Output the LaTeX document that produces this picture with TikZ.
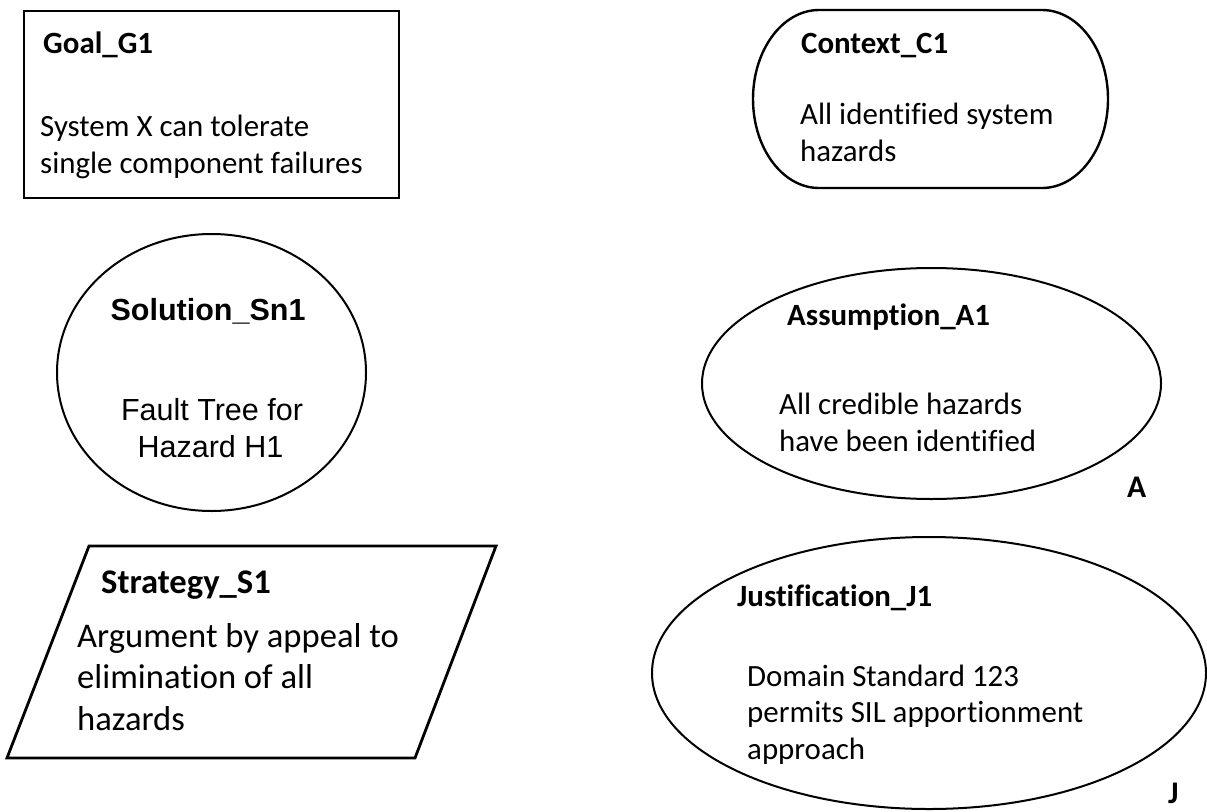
\documentclass[tikz,border=0pt]{standalone}
\usepackage{fontspec}
\setmainfont{Carlito}[Ligatures=NoCommon]
\newfontfamily\arialfont{Liberation Sans}
\usetikzlibrary{shapes.geometric}
\begin{document}
\begin{tikzpicture}[x=1pt,y=-1pt,
  shapeline/.style={draw=black,line width=2.2pt},
  ttl/.style={anchor=base west,inner sep=0pt,font=\fontsize{30.9}{36.5}\selectfont\bfseries},
  txt/.style={anchor=base west,inner sep=0pt,font=\fontsize{30.9}{36.5}\selectfont},
  sttl/.style={anchor=base west,inner sep=0pt,font=\fontsize{34.6}{41.5}\selectfont\bfseries},
  stxt/.style={anchor=base west,inner sep=0pt,font=\fontsize{34.6}{41.5}\selectfont},
  attl/.style={anchor=base,inner sep=0pt,font=\fontsize{30.5}{37}\selectfont\arialfont\bfseries},
  atxt/.style={anchor=base,inner sep=0pt,font=\fontsize{30.5}{37}\selectfont\arialfont},
  ellnode/.style={shapeline,ellipse,inner sep=0pt,line width=2pt}
]
\useasboundingbox (0,0) rectangle (1207,811);

% Goal
\node[shapeline,line width=2.8pt,rectangle,inner sep=0pt,minimum width=375pt,minimum height=187pt] (goal) at (211.5,104.5) {};
\node[ttl] (goalT) at (43,53.3) {Goal\_G1};
\node[txt] (goalL1) at (40,136.7) {System X can tolerate};
\node[txt] (goalL2) at (40,173.3) {single component failures};

% Context
\draw[shapeline,line width=2.4pt] (819,10) -- (1042,10)
  arc[start angle=-90,end angle=90,x radius=66,y radius=89]
  -- (819,188)
  arc[start angle=90,end angle=270,x radius=66,y radius=89] -- cycle;
\coordinate (context) at (930.5,99);
\node[ttl] (ctxT) at (801,53) {Context\_C1};
\node[txt] (ctxL1) at (800,124.3) {All identified system};
\node[txt] (ctxL2) at (800,161) {hazards};

% Solution
\node[ellnode,minimum width=309pt,minimum height=277pt] (sol) at (211.5,372.5) {};
\node[attl] (solT) at (208,320) {Solution\_Sn1};
\node[atxt] (solL1) at (212,420) {Fault Tree for};
\node[atxt] (solL2) at (210.5,457.3) {Hazard H1};

% Assumption
\node[ellnode,minimum width=459pt,minimum height=231pt] (ass) at (931.5,383.5) {};
\node[ttl] (assT) at (787,325) {Assumption\_A1};
\node[txt] (assL1) at (779,414) {All credible hazards};
\node[txt] (assL2) at (779,451) {have been identified};
\node[ttl,font=\fontsize{31.5}{37}\selectfont\bfseries] (assA) at (1127,497) {A};

% Strategy
\draw[shapeline,line width=2.8pt] (89,546) -- (496,546) -- (415,758) -- (7,758) -- cycle;
\coordinate (strat) at (251.5,652);
\node[sttl] (strT) at (101,593) {Strategy\_S1};
\node[stxt] (strL1) at (77,647) {Argument by appeal to};
\node[stxt] (strL2) at (77,688) {elimination of all};
\node[stxt] (strL3) at (77,730) {hazards};

% Justification
\node[ellnode,minimum width=554pt,minimum height=272pt] (jus) at (929,673) {};
\node[ttl] (jusT) at (737,606) {Justification\_J1};
\node[txt] (jusL1) at (747,686) {Domain Standard 123};
\node[txt] (jusL2) at (747,722) {permits SIL apportionment};
\node[txt] (jusL3) at (747,759) {approach};
\node[ttl,font=\fontsize{31.5}{37}\selectfont\bfseries] (jusJ) at (1168,803) {J};
\end{tikzpicture}
\end{document}
